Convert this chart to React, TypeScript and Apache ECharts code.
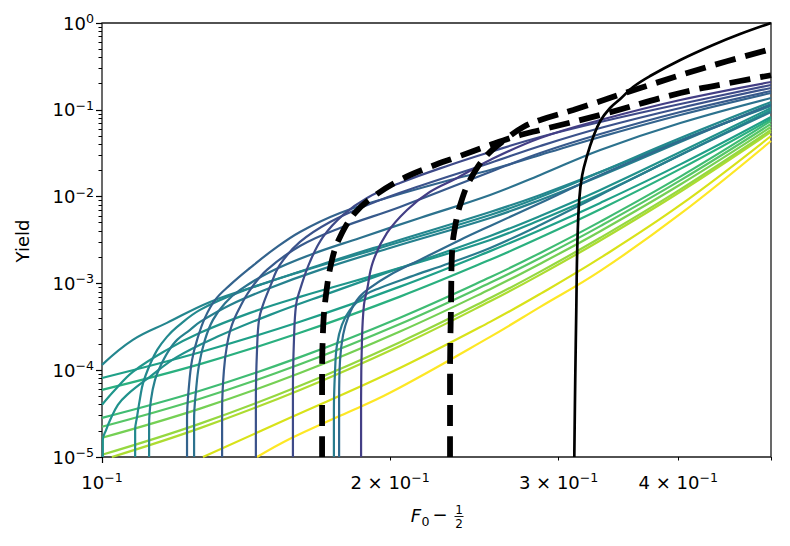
import React, { useEffect, useRef } from 'react';
import * as echarts from 'echarts';

type P = [number, number];

// ---- tick values ----
const xMajorTicks = [0.1];
const xMinorTicks = [0.2, 0.3, 0.4, 0.5];
const xTickLabels = [0.1, 0.2, 0.3, 0.4];
const yMajorTicks = [1e-5, 1e-4, 1e-3, 1e-2, 1e-1, 1];
const yMinorTicks = [
  2e-5, 3e-5, 4e-5, 5e-5, 6e-5, 7e-5, 8e-5, 9e-5,
  2e-4, 3e-4, 4e-4, 5e-4, 6e-4, 7e-4, 8e-4, 9e-4,
  2e-3, 3e-3, 4e-3, 5e-3, 6e-3, 7e-3, 8e-3, 9e-3,
  2e-2, 3e-2, 4e-2, 5e-2, 6e-2, 7e-2, 8e-2, 9e-2,
  0.2, 0.3, 0.4, 0.5, 0.6, 0.7, 0.8, 0.9,
];

// ---- threshold curves (coloured) ----
const yieldT361: P[] = [[0.1865, 1e-5], [0.1865, 4.56e-5], [0.1869, 2.24e-4], [0.1878, 5.65e-4], [0.1892, 8.42e-4], [0.1919, 1.77e-3], [0.1985, 3.81e-3], [0.2083, 7.02e-3], [0.22, 1.131e-2], [0.235, 1.639e-2], [0.2544, 2.642e-2], [0.287, 4.73e-2], [0.3316, 7.63e-2], [0.402, 0.1297], [0.5, 0.2091]];
const yieldT293: P[] = [[0.1583, 1e-5], [0.1583, 5.94e-5], [0.1587, 2.24e-4], [0.1595, 5.65e-4], [0.161, 8.42e-4], [0.1649, 1.77e-3], [0.1702, 3.43e-3], [0.1786, 6.15e-3], [0.1892, 9.65e-3], [0.2048, 1.436e-2], [0.231, 2.314e-2], [0.2544, 3.266e-2], [0.287, 4.858e-2], [0.3316, 7.236e-2], [0.402, 0.1166], [0.5, 0.1931]];
const yieldT256: P[] = [[0.1448, 1e-5], [0.1448, 4.56e-5], [0.1452, 1.715e-4], [0.1459, 3.8e-4], [0.1473, 5.65e-4], [0.1498, 9.11e-4], [0.1534, 1.632e-3], [0.161, 3.004e-3], [0.1731, 5.105e-3], [0.1905, 8.226e-3], [0.2148, 1.326e-2], [0.2544, 2.44e-2], [0.287, 3.829e-2], [0.3316, 6.171e-2], [0.402, 0.1049], [0.5, 0.1783]];
const yieldT222: P[] = [[0.1335, 1e-5], [0.1335, 3.5e-5], [0.1341, 1.01e-4], [0.1351, 1.958e-4], [0.1367, 3.328e-4], [0.1394, 5.362e-4], [0.1428, 8.42e-4], [0.1487, 1.43e-3], [0.161, 2.702e-3], [0.1773, 4.354e-3], [0.2048, 7.597e-3], [0.2544, 1.922e-2], [0.287, 3.18e-2], [0.3316, 5.261e-2], [0.402, 9.436e-2], [0.5, 0.1647]];
const yieldT187: P[] = [[0.1227, 1e-5], [0.1227, 2.683e-5], [0.1233, 6.783e-5], [0.1242, 1.316e-4], [0.1257, 2.236e-4], [0.1281, 4.006e-4], [0.1313, 6.456e-4], [0.1361, 9.607e-4], [0.1428, 1.508e-3], [0.1509, 2.43e-3], [0.161, 3.916e-3], [0.1773, 6.48e-3], [0.1999, 9.91e-3], [0.231, 1.555e-2], [0.2544, 2.027e-2], [0.287, 3.02e-2], [0.3316, 4.858e-2], [0.402, 8.71e-2], [0.5, 0.1562]];
const yieldT339: P[] = [[0.1769, 1e-5], [0.1769, 4.56e-5], [0.1773, 1.316e-4], [0.1786, 2.553e-4], [0.1807, 4.006e-4], [0.1847, 6.456e-4], [0.1905, 8.872e-4], [0.1999, 1.252e-3], [0.2148, 1.864e-3], [0.2367, 3.168e-3], [0.2544, 4.591e-3], [0.287, 8.447e-3], [0.3316, 1.775e-2], [0.402, 4.372e-2], [0.5, 0.1136]];
const yieldT194: P[] = [[0.1248, 1e-5], [0.1248, 2.683e-5], [0.1254, 5.942e-5], [0.1263, 1.153e-4], [0.1281, 2.236e-4], [0.1306, 3.8e-4], [0.1345, 5.962e-4], [0.1394, 8.416e-4], [0.1498, 1.356e-3], [0.1649, 2.128e-3], [0.186, 3.34e-3], [0.2148, 5.675e-3], [0.2544, 1.045e-2], [0.287, 1.775e-2], [0.3316, 3.444e-2], [0.402, 7.05e-2], [0.5, 0.1368]];
const yieldT334: P[] = [[0.1747, 1e-5], [0.1747, 3.497e-5], [0.1752, 1.01e-4], [0.176, 1.958e-4], [0.1781, 3.328e-4], [0.1816, 4.953e-4], [0.1883, 7.37e-4], [0.1952, 8.872e-4], [0.2098, 1.188e-3], [0.231, 1.721e-3], [0.2544, 2.562e-3], [0.287, 4.714e-3], [0.3316, 1.045e-2], [0.402, 3.02e-2], [0.5, 9.436e-2]];
const yieldT149: P[] = [[0.112, 1e-5], [0.112, 2.35e-5], [0.1125, 4.558e-5], [0.1136, 7.745e-5], [0.115, 1.093e-4], [0.1172, 1.626e-4], [0.1198, 2.236e-4], [0.1236, 2.915e-4], [0.1266, 3.604e-4], [0.1361, 5.65e-4], [0.1498, 8.872e-4], [0.1689, 1.43e-3], [0.1999, 2.562e-3], [0.2544, 5.675e-3], [0.287, 9.147e-3], [0.3316, 1.729e-2], [0.402, 4.258e-2], [0.5, 0.1166]];
const yieldT135: P[] = [[0.1083, 1e-5], [0.1083, 2.058e-5], [0.1088, 2.904e-5], [0.1096, 4.806e-5], [0.1104, 7.153e-5], [0.1122, 1.153e-4], [0.1142, 1.715e-4], [0.1169, 2.421e-4], [0.1198, 3.156e-4], [0.1266, 4.953e-4], [0.1394, 7.981e-4], [0.161, 1.356e-3], [0.1952, 2.562e-3], [0.2544, 6.15e-3], [0.287, 9.91e-3], [0.3316, 1.922e-2], [0.402, 4.73e-2], [0.5, 0.123]];
const yieldT100: P[] = [[0.1002, 1e-5], [0.1002, 1.579e-5], [0.101, 2.058e-5], [0.102, 2.683e-5], [0.1039, 3.992e-5], [0.1062, 5.204e-5], [0.1122, 8.385e-5], [0.1198, 1.424e-4], [0.1319, 2.421e-4], [0.1498, 4.338e-4], [0.1731, 7.772e-4], [0.2048, 1.508e-3], [0.2544, 3.521e-3], [0.287, 5.984e-3], [0.3316, 1.193e-2], [0.402, 3.266e-2], [0.5, 0.1049]];

// ---- curves entering from the left edge ----
const yieldS1: P[] = [[0.1, 1.153e-4], [0.1077, 2.236e-4], [0.1169, 3.509e-4], [0.1297, 6.122e-4], [0.1462, 9.607e-4], [0.1689, 1.632e-3], [0.1999, 2.926e-3], [0.2544, 6.654e-3], [0.287, 1.045e-2], [0.3316, 1.922e-2], [0.402, 4.49e-2], [0.5, 0.1106]];
const yieldS2: P[] = [[0.1, 3.992e-5], [0.1032, 5.942e-5], [0.1077, 9.574e-5], [0.1169, 1.715e-4], [0.1266, 2.692e-4], [0.1428, 4.574e-4], [0.161, 6.99e-4], [0.2048, 1.508e-3], [0.2544, 3.168e-3], [0.287, 5.383e-3], [0.3316, 1.073e-2], [0.402, 3.02e-2], [0.5, 9.95e-2]];
const yieldS3: P[] = [[0.1, 8.13e-5], [0.1266, 1.608e-4], [0.161, 3.621e-4], [0.2048, 9.186e-4], [0.2544, 2.355e-3], [0.287, 4.134e-3], [0.3316, 8.462e-3], [0.402, 2.35e-2], [0.5, 8.263e-2]];
const yieldS4: P[] = [[0.1, 5.942e-5], [0.1266, 1.176e-4], [0.161, 2.698e-4], [0.2048, 7.045e-4], [0.2544, 1.87e-3], [0.287, 3.37e-3], [0.3316, 7.14e-3], [0.402, 2.085e-2], [0.5, 7.834e-2]];
const yieldG1: P[] = [[0.1, 2.828e-5], [0.1266, 5.803e-5], [0.161, 1.415e-4], [0.2048, 4.025e-4], [0.2544, 1.176e-3], [0.287, 2.246e-3], [0.3316, 5.152e-3], [0.402, 1.699e-2], [0.5, 7.45e-2]];
const yieldG2: P[] = [[0.1, 2.228e-5], [0.1266, 4.683e-5], [0.161, 1.169e-4], [0.2048, 3.406e-4], [0.2544, 1.016e-3], [0.287, 1.962e-3], [0.3316, 4.571e-3], [0.402, 1.537e-2], [0.5, 6.881e-2]];
const yieldG3: P[] = [[0.1, 1.665e-5], [0.1266, 3.61e-5], [0.161, 9.283e-5], [0.2048, 2.792e-4], [0.2544, 8.574e-4], [0.287, 1.687e-3], [0.3316, 3.994e-3], [0.402, 1.378e-2], [0.5, 6.353e-2]];
const yieldG4: P[] = [[0.1, 1.061e-5], [0.1266, 2.425e-5], [0.161, 6.612e-5], [0.2048, 2.102e-4], [0.2544, 6.772e-4], [0.287, 1.367e-3], [0.3316, 3.352e-3], [0.402, 1.21e-2], [0.5, 5.866e-2]];
const yieldG5: P[] = [[0.1024, 1e-5], [0.1266, 2.152e-5], [0.161, 5.929e-5], [0.2048, 1.905e-4], [0.2544, 6.221e-4], [0.287, 1.263e-3], [0.3316, 3.12e-3], [0.402, 1.136e-2], [0.5, 5.563e-2]];
const yieldY1: P[] = [[0.1275, 1e-5], [0.1572, 2.828e-5], [0.1999, 9.32e-5], [0.2544, 3.604e-4], [0.287, 7.569e-4], [0.3316, 1.965e-3], [0.402, 8.01e-3], [0.5, 4.989e-2]];
const yieldY2: P[] = [[0.1452, 1e-5], [0.1572, 1.621e-5], [0.1773, 2.982e-5], [0.1999, 5.487e-5], [0.2544, 2.421e-4], [0.287, 5.362e-4], [0.3316, 1.393e-3], [0.402, 6.31e-3], [0.5, 4.372e-2]];

// ---- black curves ----
const yieldDashedA: P[] = [[0.1698, 1e-5], [0.1698, 5.94e-5], [0.1702, 2.915e-4], [0.1714, 7.37e-4], [0.1739, 1.864e-3], [0.1773, 3.43e-3], [0.1838, 6.48e-3], [0.1919, 9.91e-3], [0.2048, 1.555e-2], [0.22, 2.194e-2], [0.235, 2.86e-2], [0.2544, 3.93e-2], [0.2735, 5.12e-2], [0.287, 5.85e-2], [0.3316, 8.71e-2], [0.402, 0.1562], [0.4641, 0.2147], [0.5, 0.25]];
const yieldDashedB: P[] = [[0.231, 1e-5], [0.231, 7.75e-5], [0.2316, 6.46e-4], [0.2322, 2.43e-3], [0.2338, 4.47e-3], [0.2367, 8.01e-3], [0.2424, 1.555e-2], [0.2526, 3.02e-2], [0.2651, 4.73e-2], [0.2755, 6.34e-2], [0.287, 7.63e-2], [0.3107, 9.95e-2], [0.365, 0.1783], [0.4287, 0.3113], [0.5, 0.5]];
const yieldSolid: P[] = [[0.3115, 1e-5], [0.3122, 7.75e-5], [0.313, 4.95e-4], [0.3137, 2.43e-3], [0.3152, 9.15e-3], [0.3175, 1.773e-2], [0.3214, 3.015e-2], [0.326, 4.86e-2], [0.3316, 7.43e-2], [0.3395, 0.1049], [0.3479, 0.1332], [0.3588, 0.1831], [0.3738, 0.2451], [0.402, 0.3748], [0.4349, 0.5578], [0.4641, 0.7467], [0.5, 1.0]];

const colouredCurves: { data: P[]; color: string }[] = [
  { data: yieldY2, color: '#fde725' },
  { data: yieldY1, color: '#d8e219' },
  { data: yieldG5, color: '#addc30' },
  { data: yieldG4, color: '#95d840' },
  { data: yieldG3, color: '#75d054' },
  { data: yieldG2, color: '#56c667' },
  { data: yieldG1, color: '#3fbc73' },
  { data: yieldS4, color: '#2ab07f' },
  { data: yieldS3, color: '#1fa088' },
  { data: yieldS2, color: '#1f968b' },
  { data: yieldS1, color: '#24868e' },
  { data: yieldT100, color: '#20928c' },
  { data: yieldT135, color: '#23898e' },
  { data: yieldT149, color: '#26818e' },
  { data: yieldT334, color: '#287c8e' },
  { data: yieldT194, color: '#2c728e' },
  { data: yieldT339, color: '#2f6b8e' },
  { data: yieldT187, color: '#33638d' },
  { data: yieldT222, color: '#375a8c' },
  { data: yieldT256, color: '#3b528b' },
  { data: yieldT293, color: '#3e4a89' },
  { data: yieldT361, color: '#433e85' },
];

const FONT = '"DejaVu Sans", sans-serif';

const expLabel = (v: number) => {
  const e = Math.floor(Math.log10(v) + 1e-9);
  const m = Math.round(v / Math.pow(10, e));
  const sup = e < 0 ? '\u2212' + -e : String(e);
  return m === 1 ? `{b|10}{s|${sup}}` : `{b|${m} \u00d7 10}{s|${sup}}`;
};

const rich = {
  b: { fontSize: 18, fontFamily: FONT, color: '#000', lineHeight: 22 },
  s: { fontSize: 12.6, fontFamily: FONT, color: '#000', verticalAlign: 'top' as const, lineHeight: 14 },
};

const centred = { align: 'center', verticalAlign: 'middle', textAlign: 'center', textVerticalAlign: 'middle', fill: '#000', fontFamily: FONT };

export default function App() {
  const ref = useRef<HTMLDivElement>(null);
  useEffect(() => {
    document.body.style.margin = '0';
    const chart = echarts.init(ref.current!, null, { renderer: 'svg' });
    const series: any[] = colouredCurves.map((c) => ({
      type: 'line',
      data: c.data,
      showSymbol: false,
      smooth: 0.4,
      clip: true,
      silent: true,
      lineStyle: { color: c.color, width: 2.2 },
      z: 2,
    }));
    const dashed = { color: '#000', width: 5.8, type: [21, 10], cap: 'butt' };
    series.push(
      { type: 'line', data: yieldDashedA, showSymbol: false, smooth: 0.4, silent: true, lineStyle: dashed, z: 3 },
      { type: 'line', data: yieldDashedB, showSymbol: false, smooth: 0.4, silent: true, lineStyle: dashed, z: 3 },
      { type: 'line', data: yieldSolid, showSymbol: false, smooth: 0.4, silent: true, lineStyle: { color: '#000', width: 2.7 }, z: 3 },
    );
    const option: any = {
      animation: false,
      grid: { left: 102, right: 19, top: 23, bottom: 89, show: true, borderColor: '#1a1a1a', borderWidth: 1.3, backgroundColor: 'transparent' },
      xAxis: [
        {
          type: 'log', logBase: 10, min: 0.1, max: 0.5, position: 'bottom',
          axisLine: { show: false }, splitLine: { show: false },
          axisTick: { show: true, customValues: xMajorTicks, length: 6, lineStyle: { color: '#000', width: 1.2 } },
          axisLabel: { customValues: xTickLabels, formatter: expLabel, rich, margin: 14 },
        },
        {
          type: 'log', logBase: 10, min: 0.1, max: 0.5, position: 'bottom',
          axisLine: { show: false }, splitLine: { show: false },
          axisTick: { show: true, customValues: xMinorTicks, length: 3.5, lineStyle: { color: '#000', width: 1 } },
          axisLabel: { show: false },
        },
      ],
      yAxis: [
        {
          type: 'log', logBase: 10, min: 1e-5, max: 1, position: 'left',
          axisLine: { show: false }, splitLine: { show: false },
          axisTick: { show: true, customValues: yMajorTicks, length: 6, lineStyle: { color: '#000', width: 1.2 } },
          axisLabel: { customValues: yMajorTicks, formatter: expLabel, rich, margin: 8 },
        },
        {
          type: 'log', logBase: 10, min: 1e-5, max: 1, position: 'left',
          axisLine: { show: false }, splitLine: { show: false },
          axisTick: { show: true, customValues: yMinorTicks, length: 3.5, lineStyle: { color: '#000', width: 1 } },
          axisLabel: { show: false },
        },
      ],
      graphic: [
        { type: 'text', x: 22, y: 241, rotation: Math.PI / 2, silent: true, style: { ...centred, text: 'Yield', fontSize: 18 } },
        { type: 'text', x: 416, y: 515, silent: true, style: { ...centred, text: 'F', fontSize: 18, fontStyle: 'italic' } },
        { type: 'text', x: 425.5, y: 521, silent: true, style: { ...centred, text: '0', fontSize: 12.6 } },
        { type: 'text', x: 440, y: 514, silent: true, style: { ...centred, text: '\u2212', fontSize: 18 } },
        { type: 'text', x: 459, y: 509.5, silent: true, style: { ...centred, text: '1', fontSize: 12 } },
        { type: 'line', silent: true, shape: { x1: 454.5, y1: 516.5, x2: 463.5, y2: 516.5 }, style: { stroke: '#000', lineWidth: 0.9 } },
        { type: 'text', x: 459, y: 523.5, silent: true, style: { ...centred, text: '2', fontSize: 12 } },
      ],
      series,
    };
    chart.setOption(option);
    return () => chart.dispose();
  }, []);
  return <div ref={ref} style={{ position: 'absolute', left: 0, top: 0, width: 790, height: 546 }} />;
}
